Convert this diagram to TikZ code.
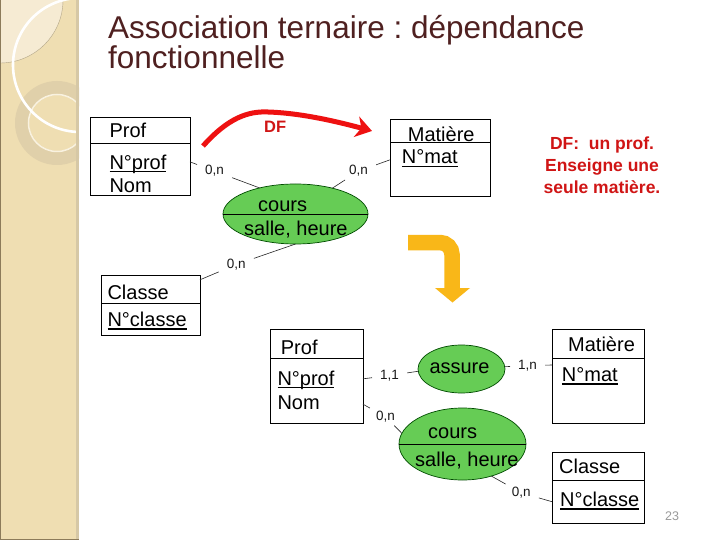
\documentclass[tikz,border=0pt]{standalone}
\usepackage{fontspec}
\setmainfont{Liberation Sans}
\usetikzlibrary{arrows.meta,calc,shapes.geometric}
\definecolor{stripc}{HTML}{EFDEB2}
\definecolor{lightc}{HTML}{F6EBD3}
\definecolor{ringc}{HTML}{E0D0AA}
\definecolor{bandc}{HTML}{D6C8A6}
\definecolor{edgec}{HTML}{8C7B5A}
\definecolor{titlec}{HTML}{4F2020}
\definecolor{relgreen}{HTML}{66CC55}
\definecolor{dfred}{HTML}{D01515}
\definecolor{arrowred}{HTML}{EE1111}
\definecolor{orangec}{HTML}{F9B718}
\newcommand\ulx[1]{\begingroup\setbox0\hbox{#1}\rlap{\rule[-3pt]{\wd0}{1.4pt}}\box0\endgroup}
\frenchspacing
\tikzset{
  ent/.style={draw=black, line width=0.9pt, outer sep=0pt, inner sep=0pt, fill=white},
  rel/.style={ellipse, draw=black!70!green, line width=0.7pt, fill=relgreen, outer sep=0pt, inner sep=0pt},
  txt/.style={font=\fontsize{20}{24}\selectfont, inner sep=0pt, anchor=base west, text=black},
  card/.style={font=\fontsize{13.5}{15}\selectfont, inner xsep=8pt, inner ysep=3pt, anchor=base west, text=black!90},
  conn/.style={draw=black!85, line width=0.6pt},
  ttl/.style={font=\fontsize{31.5}{36}\selectfont, inner sep=0pt, anchor=base west, text=titlec},
  dft/.style={font=\bfseries\fontsize{17.5}{21}\selectfont, inner sep=0pt, anchor=base, text=dfred}
}
\begin{document}
\begin{tikzpicture}[x=1pt,y=-1pt]
\useasboundingbox (0,0) rectangle (720,540);
\fill[white] (0,0) rectangle (720,540);
% left decorative strip
\begin{scope}
  \clip (0,0) rectangle (79,540);
  \fill[stripc] (0,0) rectangle (79,540);
  \fill[lightc, draw=ringc!80!black, line width=0.4pt] (0,0) circle (63pt);
  \fill[ringc, even odd rule] (57,123) circle (42pt) (57,123) circle (28pt);
  \draw[white!60!stripc, line width=1.5pt] (57,123) circle (28.5pt);
  \draw[white, line width=2.6pt] (80,65) circle (67pt);
  \fill[bandc] (76,0) rectangle (79,540);
  \draw[edgec, line width=1pt] (0.5,0) -- (0.5,540);
  \draw[edgec, line width=1.2pt] (0,539.2) -- (79,539.2);
\end{scope}
% title
\node[ttl] (title1) at (108,38.3) {Association ternaire : dépendance};
\node[ttl] (title2) at (108,68.3) {fonctionnelle};
% ---------- top diagram ----------
\node[ent, minimum width=100pt, minimum height=78pt] (tprof) at (140,156) {};
\draw[line width=0.9pt] (tprof.west |- 0,143) -- (tprof.east |- 0,143);
\node[txt] (tprofa) at (109.3,137.3) {Prof};
\node[txt] (tprofb) at (109.3,169.3) {\ulx{N°prof}};
\node[txt] (tprofc) at (109.3,192.7) {Nom};

\node[ent, minimum width=100pt, minimum height=77pt] (tmat) at (440,157.5) {};
\draw[line width=0.9pt] (tmat.west |- 0,142) -- (tmat.east |- 0,142);
\node[txt] (tmata) at (407.7,141.7) {Matière};
\node[txt] (tmatb) at (401.7,164) {\ulx{N°mat}};

\node[ent, minimum width=99pt, minimum height=60pt] (tcls) at (150.5,305) {};
\draw[line width=0.9pt] (tcls.west |- 0,303) -- (tcls.east |- 0,303);
\node[txt] (tclsa) at (107.3,299) {Classe};
\node[txt] (tclsb) at (107.3,326.7) {\ulx{N°classe}};

\node[rel, minimum width=145pt, minimum height=60pt] (tcours) at (295.5,214) {};
\draw[line width=0.7pt] (tcours.west) -- (tcours.east);
\node[txt] (tcoursa) at (258,211.7) {cours};
\node[txt] (tcoursb) at (244,236) {salle, heure};

\node[card] (c1) at (197,175) {0,n\hspace{3pt}};
\node[card] (c2) at (341,175) {0,n\hspace{3pt}};
\node[card] (c3) at (218.7,268.3) {0,n\hspace{3pt}};
\draw[conn] ($(tprof.north east)!0.575!(tprof.south east)$) -- (c1);
\draw[conn] (c1) -- (tcours.144);
\draw[conn] ($(tmat.north west)!0.53!(tmat.south west)$) -- (c2);
\draw[conn] (c2) -- (tcours.35);
\draw[conn] (tcours.270) -- (c3);
\draw[conn] (c3) -- ($(tcls.north east)!0.08!(tcls.south east)$);

% red DF arrow
\coordinate (dfa) at (203,146);
\coordinate (dfb) at (372,131);
\draw[arrowred, line width=5pt, -{Stealth[length=16pt,width=21pt,inset=5pt]}]
  (dfa) .. controls (228,118) and (248,111) .. (268,112)
        .. controls (300,113) and (335,121) .. (dfb);
\node[font=\bfseries\fontsize{16.5}{20}\selectfont, text=dfred, inner sep=0pt, anchor=base west] (dflab) at (264,132.3) {DF};

% red explanation
\node[dft] (df1) at (602,150) {DF:\ \ un prof.};
\node[dft] (df2) at (602,171.7) {Enseigne une};
\node[dft] (df3) at (602,193.3) {seule matière.};

% orange arrow
\coordinate (oa) at (408,242.5);
\coordinate (ob) at (452,242.5);
\coordinate (oc) at (452,289);
\draw[orangec, line width=15.5pt, rounded corners=12pt] (oa) -- (ob) -- (oc);
\fill[orangec] (435,288) -- (470,288) -- (452.5,302.5) -- cycle;

% ---------- bottom diagram ----------
\node[ent, minimum width=93pt, minimum height=94pt] (bprof) at (316.5,376) {};
\draw[line width=0.9pt] (bprof.west |- 0,358) -- (bprof.east |- 0,358);
\node[txt] (bprofa) at (280.7,354.3) {Prof};
\node[txt] (bprofb) at (277.3,385) {\ulx{N°prof}};
\node[txt] (bprofc) at (277.3,409) {Nom};

\node[ent, minimum width=92pt, minimum height=94pt] (bmat) at (598,376) {};
\draw[line width=0.9pt] (bmat.west |- 0,358) -- (bmat.east |- 0,358);
\node[txt] (bmata) at (568,351.7) {Matière};
\node[txt] (bmatb) at (561.7,381.7) {\ulx{N°mat}};

\node[ent, minimum width=92pt, minimum height=71pt] (bcls) at (598,487.5) {};
\draw[line width=0.9pt] (bcls.west |- 0,480) -- (bcls.east |- 0,480);
\node[txt] (bclsa) at (559,473.3) {Classe};
\node[txt] (bclsb) at (560,506.7) {\ulx{N°classe}};

\node[rel, minimum width=87pt, minimum height=48pt] (bassure) at (461.5,369) {};
\node[txt] (bassuret) at (429.3,373.3) {assure};

\node[rel, minimum width=127pt, minimum height=72pt] (bcours) at (462.5,444) {};
\draw[line width=0.7pt] (bcours.west) -- (bcours.east);
\node[txt] (bcoursa) at (428,438.3) {cours};
\node[txt] (bcoursb) at (415,466.7) {salle, heure};

\node[card] (c4) at (372,379.3) {1,1\hspace{3pt}};
\node[card] (c5) at (510,369.3) {1,n\hspace{3pt}};
\node[card] (c6) at (368,420.7) {0,n\hspace{3pt}};
\node[card] (c7) at (503.7,496.7) {0,n\hspace{3pt}};
\draw[conn] ($(bprof.north east)!0.53!(bprof.south east)$) -- (c4);
\draw[conn] (c4) -- (bassure.183);
\draw[conn] (bassure.3) -- (c5);
\draw[conn] (c5) -- ($(bmat.north west)!0.383!(bmat.south west)$);
\draw[conn] ($(bprof.north east)!0.80!(bprof.south east)$) -- (c6);
\draw[conn] (c6) -- (bcours.170);
\draw[conn] (bcours.312) -- (c7);
\draw[conn] (c7) -- ($(bcls.north west)!0.70!(bcls.south west)$);

% page number
\node[font=\fontsize{12.5}{14}\selectfont, text=black!40, inner sep=0pt, anchor=base west] (pnum) at (665,520.7) {23};
\end{tikzpicture}
\end{document}
